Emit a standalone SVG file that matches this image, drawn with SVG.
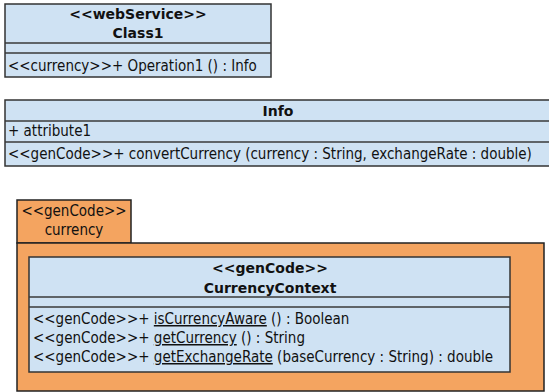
<svg xmlns="http://www.w3.org/2000/svg" width="549" height="392" viewBox="0 0 549 392">
  <style>
    .cls { fill: #cfe2f3; stroke: #333; stroke-width: 1.5; }
    .pkg { fill: #f4a460; stroke: #222; stroke-width: 1.5; }
    .sep { stroke: #3a3a3a; stroke-width: 1.5; }
    text { font-family: "DejaVu Sans Condensed", "DejaVu Sans", sans-serif; font-stretch: condensed; font-size: 15px; fill: #111; }
    .title { font-family: "DejaVu Sans", sans-serif; font-stretch: normal; font-size: 14px; font-weight: bold; text-anchor: middle; }
    .mid { text-anchor: middle; }
    .u { text-decoration: underline; }
  </style>
  <rect width="549" height="392" fill="#ffffff"/>

  <g id="Class1">
    <rect class="cls" x="5" y="4" width="266" height="73"/>
    <text class="title" x="138" y="19">&lt;&lt;webService&gt;&gt;</text>
    <text class="title" x="138" y="38">Class1</text>
    <line class="sep" x1="5" y1="43" x2="271" y2="43"/>
    <line class="sep" x1="5" y1="53" x2="271" y2="53"/>
    <text x="8" y="71">&lt;&lt;currency&gt;&gt;+ Operation1 () : Info</text>
  </g>

  <g id="Info">
    <rect class="cls" x="5" y="100" width="560" height="66"/>
    <text class="title" x="278" y="116">Info</text>
    <line class="sep" x1="5" y1="121" x2="549" y2="121"/>
    <text x="8" y="136">+ attribute1</text>
    <line class="sep" x1="5" y1="142" x2="549" y2="142"/>
    <text x="8" y="159">&lt;&lt;genCode&gt;&gt;+ convertCurrency (currency : String, exchangeRate : double)</text>
  </g>

  <g id="currency">
    <rect class="pkg" x="17" y="200" width="114" height="43"/>
    <rect class="pkg" x="17" y="243" width="527" height="148"/>
    <text class="mid" x="74" y="216">&lt;&lt;genCode&gt;&gt;</text>
    <text class="mid" x="74" y="235">currency</text>
  </g>

  <g id="CurrencyContext">
    <rect class="cls" x="29" y="257" width="481" height="115"/>
    <text class="title" x="270" y="273">&lt;&lt;genCode&gt;&gt;</text>
    <text class="title" x="270" y="293">CurrencyContext</text>
    <line class="sep" x1="29" y1="297" x2="510" y2="297"/>
    <line class="sep" x1="29" y1="307" x2="510" y2="307"/>
    <text x="33" y="324">&lt;&lt;genCode&gt;&gt;+ <tspan class="u">isCurrencyAware</tspan> () : Boolean</text>
    <text x="33" y="343">&lt;&lt;genCode&gt;&gt;+ <tspan class="u">getCurrency</tspan> () : String</text>
    <text x="33" y="362">&lt;&lt;genCode&gt;&gt;+ <tspan class="u">getExchangeRate</tspan> (baseCurrency : String) : double</text>
  </g>

  <g id="connectors"></g>
</svg>
